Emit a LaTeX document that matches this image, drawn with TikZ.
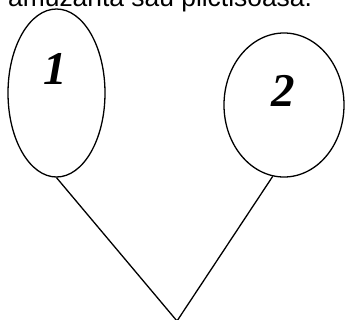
\documentclass[tikz,border=0pt]{standalone}
\usepackage{fontspec}
\setmainfont{Liberation Serif}
\newfontfamily\arialfont{Liberation Sans}
\usetikzlibrary{shapes.geometric}
\begin{document}
\begin{tikzpicture}[x=1bp,y=-1bp,
  oval/.style={draw, ellipse, line width=1.3bp, inner sep=0pt},
  lbl/.style={font=\fontsize{47bp}{50bp}\selectfont\bfseries\itshape, inner sep=0pt},
  conn/.style={line width=1.3bp}]
\useasboundingbox (0,0) rectangle (345,320);
\clip (0,0) rectangle (345,320);
\node[anchor=base west, inner sep=0pt, font=\arialfont\fontsize{26.4bp}{30bp}\selectfont] (t) at (8,6) {amuzanta sau plictisoasa.};
\node[oval, minimum width=97bp, minimum height=168bp] (e1) at (56.5,93) {};
\node[oval, minimum width=120bp, minimum height=144bp] (e2) at (284,105) {};
\node[lbl] (l1) at (55,69) {1};
\node[lbl] (l2) at (283,91) {2};
\coordinate (v) at (177,321);
\draw[conn] (e1.south) -- (v) -- (e2.261);
\end{tikzpicture}
\end{document}
